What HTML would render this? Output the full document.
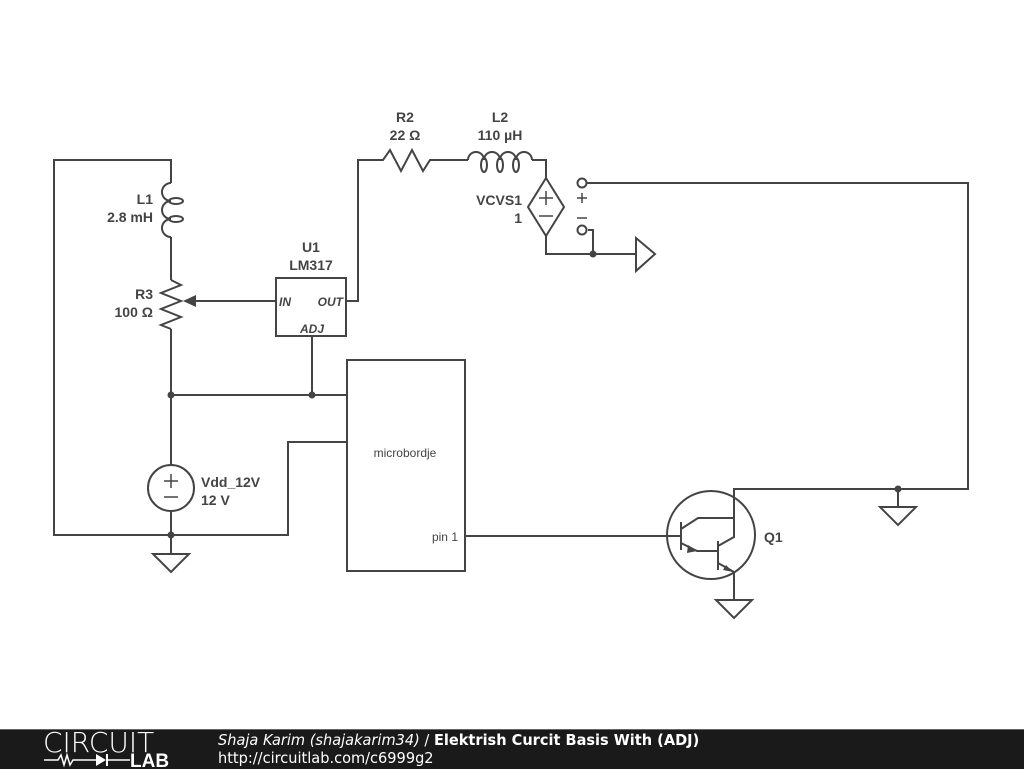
<!DOCTYPE html>
<html><head><meta charset="utf-8"><style>
html,body{margin:0;padding:0;background:#fff;}
body{width:1024px;height:768px;overflow:hidden;position:relative;font-family:"Liberation Sans",sans-serif;}
svg text{font-family:"Liberation Sans",sans-serif;fill:#444;}
</style></head><body>
<svg width="1024" height="768" viewBox="0 0 1024 768" style="position:absolute;left:0;top:0">
<g fill="none" stroke="#444" stroke-width="2">
<polyline points="171,183 171,160 54,160 54,535 288,535 288,442 347,442"/>
<path d="M171,183 a9,9 0 0 0 0,18 a9,9 0 0 0 0,18 a9,9 0 0 0 0,18"/>
<ellipse cx="176" cy="201" rx="7" ry="3"/>
<ellipse cx="176" cy="219" rx="7" ry="3"/>
<line x1="171" y1="237" x2="171" y2="280"/>
<polyline points="171,280 181,285 161,293 181,301 161,309 181,317 161,325 171,329"/>
<polyline points="171,329 171,465"/>
<line x1="276" y1="301" x2="190" y2="301"/>
<circle cx="171" cy="488" r="23"/>
<line x1="171" y1="511" x2="171" y2="554"/>
<polygon points="153,554 189,554 171,572"/>
<line x1="171" y1="395" x2="347" y2="395"/>
<line x1="312" y1="336" x2="312" y2="395"/>
<rect x="276" y="278" width="70" height="58"/>
<polyline points="346,301 358,301 358,160 378,160"/>
<polyline points="378,160 383,160 390,150 401,171 412,150 423,171 430,160 468,160"/>
<path d="M468,160 a8,8 0 0 1 16,0 a8,8 0 0 1 16,0 a8,8 0 0 1 16,0 a8,8 0 0 1 16,0"/>
<ellipse cx="484" cy="165" rx="3" ry="7"/>
<ellipse cx="500" cy="165" rx="3" ry="7"/>
<ellipse cx="516" cy="165" rx="3" ry="7"/>
<polyline points="532,160 546,160 546,178"/>
<polygon points="546,178 564,207 546,236 528,207"/>
<polyline points="546,236 546,254 636,254"/>
<polyline points="588,230 593,230 593,254"/>
<polygon points="636,238 636,271 655,254"/>
<circle cx="582" cy="183" r="4.5"/>
<circle cx="582" cy="230" r="4.5"/>
<polyline points="587,183 968,183 968,489 734,489 734,512"/>
<polyline points="898,489 898,507"/>
<polygon points="880,507 916,507 898,525"/>
<rect x="347" y="360" width="118" height="211"/>
<line x1="465" y1="536" x2="681" y2="536"/>
<circle cx="711" cy="535" r="44"/>
<line x1="681" y1="522" x2="681" y2="550"/>
<polyline points="681,529 698,518 734,518"/>
<polyline points="681,543 697,551 718,551"/>
<line x1="718" y1="541" x2="718" y2="570"/>
<polyline points="734,512 734,537 718,546"/>
<line x1="718" y1="563" x2="734" y2="572"/>
<line x1="734" y1="572" x2="734" y2="600"/>
<polygon points="716,600 752,600 734,618"/>
</g>
<g fill="#444">
<circle cx="171" cy="395" r="3.5"/><circle cx="312" cy="395" r="3.5"/>
<circle cx="171" cy="535" r="3.5"/><circle cx="593" cy="254" r="3.5"/>
<circle cx="898" cy="489" r="3.5"/>
<polygon points="183,301 196,295 196,307"/>
<polygon points="733,572 723,570 726,565"/>
<polygon points="697,551 688,545 687,553"/>
</g>
<g stroke="#444" stroke-width="1.5">
<line x1="164" y1="481" x2="178" y2="481"/><line x1="171" y1="474" x2="171" y2="488"/>
<line x1="164" y1="497" x2="178" y2="497"/>
<line x1="539" y1="198" x2="553" y2="198"/><line x1="546" y1="191" x2="546" y2="205"/>
<line x1="539" y1="216" x2="553" y2="216"/>
<line x1="577" y1="198" x2="587" y2="198"/><line x1="582" y1="193" x2="582" y2="203"/>
<line x1="577" y1="218" x2="587" y2="218"/>
</g>
<g font-weight="bold" font-size="14">
<text x="153" y="204" text-anchor="end">L1</text>
<text x="153" y="222" text-anchor="end">2.8 mH</text>
<text x="153" y="299" text-anchor="end">R3</text>
<text x="153" y="317" text-anchor="end">100 Ω</text>
<text x="311" y="252" text-anchor="middle">U1</text>
<text x="311" y="270" text-anchor="middle">LM317</text>
<text x="405" y="122" text-anchor="middle">R2</text>
<text x="405" y="140" text-anchor="middle">22 Ω</text>
<text x="500" y="122" text-anchor="middle">L2</text>
<text x="500" y="140" text-anchor="middle">110 µH</text>
<text x="522" y="205" text-anchor="end">VCVS1</text>
<text x="522" y="223" text-anchor="end">1</text>
<text x="201" y="487">Vdd_12V</text>
<text x="201" y="505">12 V</text>
<text x="764" y="542">Q1</text>
</g>
<g font-style="italic" font-size="12" font-weight="bold">
<text x="279" y="306">IN</text>
<text x="343" y="306" text-anchor="end">OUT</text>
<text x="312" y="333" text-anchor="middle">ADJ</text>
</g>
<text x="405" y="457" text-anchor="middle" font-size="12">microbordje</text>
<text x="458" y="541" text-anchor="end" font-size="12">pin 1</text>
</svg>
<div style="position:absolute;left:0;top:729px;width:1024px;height:39px;background:#1a1a1a;border-top:1px solid #666;"></div>
<div style="position:absolute;left:43px;top:729px;color:#fff;font-size:28px;font-family:'DejaVu Sans',sans-serif;font-weight:200;line-height:28px;">CIRCUIT</div>
<svg width="140" height="18" style="position:absolute;left:44px;top:751px"><polyline points="0,9 14,9 17,4 20,14 23,4 26,14 29,9 52,9" stroke="#fff" fill="none" stroke-width="1.5"/><polygon points="52,3 52,15 62,9" fill="#fff"/><line x1="63" y1="3" x2="63" y2="15" stroke="#fff" stroke-width="2"/><line x1="63" y1="9" x2="86" y2="9" stroke="#fff" stroke-width="1.5"/><text x="86" y="16" font-size="19" font-weight="bold" style="fill:#fff;font-family:'Liberation Sans',sans-serif">LAB</text></svg>
<div style="position:absolute;left:218px;top:731px;color:#fff;font-size:15px;font-family:'DejaVu Sans',sans-serif;white-space:nowrap;line-height:18px;transform:scaleX(0.97);transform-origin:left;"><i>Shaja Karim (shajakarim34)</i> / <b>Elektrish Curcit Basis With (ADJ)</b></div>
<div style="position:absolute;left:218px;top:749px;color:#fff;font-size:15px;font-family:'DejaVu Sans',sans-serif;white-space:nowrap;line-height:18px;transform:scaleX(0.97);transform-origin:left;">http://circuitlab.com/c6999g2</div>
</body></html>
